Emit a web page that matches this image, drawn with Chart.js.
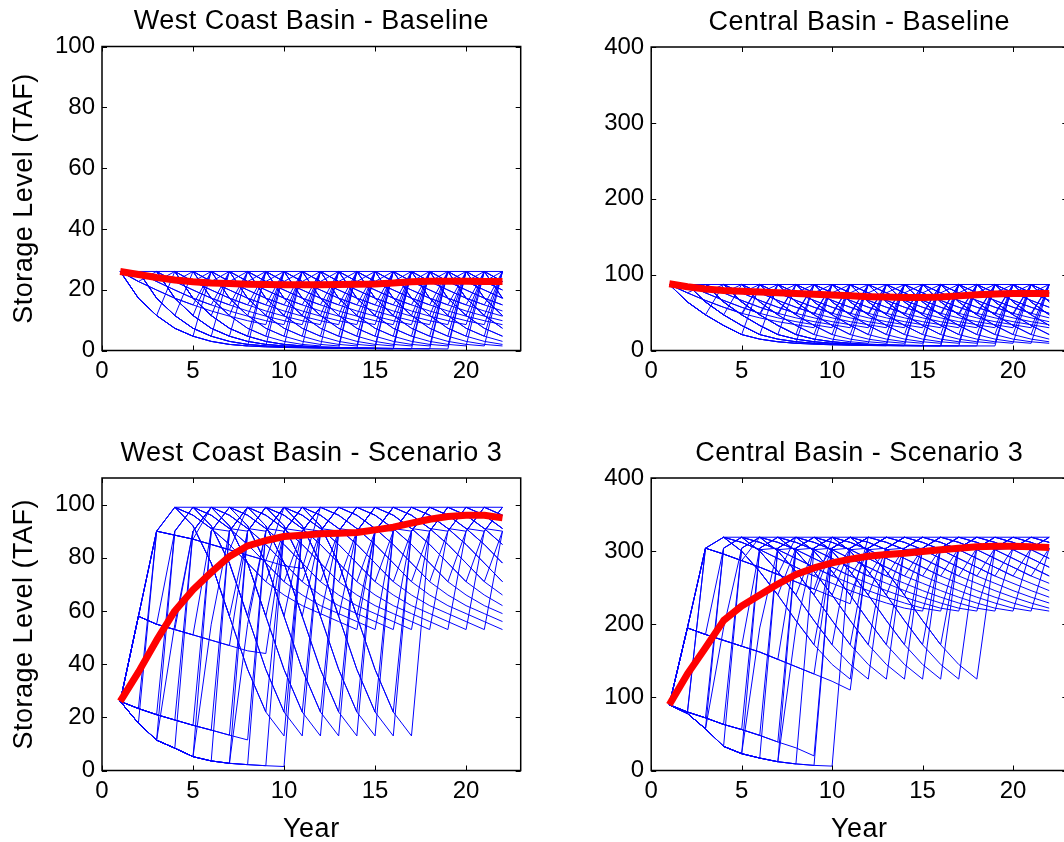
<!DOCTYPE html>
<html>
<head>
<meta charset="utf-8">
<title>Groundwater storage scenarios</title>
<script src="https://cdn.jsdelivr.net/npm/chart.js@4.4.1/dist/chart.umd.min.js"></script>
<style>
  html, body { margin: 0; padding: 0; background: #fff; }
  #fig { position: relative; width: 1064px; height: 842px; overflow: hidden; background: #fff; }
  #fig canvas { position: absolute; }
</style>
</head>
<body>
<div id="fig">
  <canvas id="wcBase" width="532" height="421" style="left:0;top:0"></canvas>
  <canvas id="cbBase" width="560" height="421" style="left:532px;top:0"></canvas>
  <canvas id="wcS3" width="532" height="421" style="left:0;top:421px"></canvas>
  <canvas id="cbS3" width="560" height="421" style="left:532px;top:421px"></canvas>
</div>
<script>
const LAST_YEAR = 22;
const years = [1, 2, 3, 4, 5, 6, 7, 8, 9, 10, 11, 12, 13, 14, 15, 16, 17, 18, 19, 20, 21, 22];
const dropYears = [1, 2, 3, 4, 5, 6, 7, 8, 9, 10, 11, 12, 13, 14, 15, 16, 17, 18, 19, 20, 21];
const longDropYears = [1, 2, 3, 4];

// West Coast Basin - Baseline (TAF)
const wcBaseFull = 26;
const wcBaseMean = [26, 25, 24, 23.2, 22.6, 22.2, 22.0, 21.8, 21.7, 21.6, 21.6, 21.6, 21.7, 21.8, 21.9, 22.2, 22.6, 22.8, 22.8, 22.8, 22.7, 22.7];
const wcBaseDeep = [26, 17.2, 11.5, 7.3, 4.7, 3.0, 2.0, 1.5, 1.2, 1.0, 0.9, 0.8, 0.7, 0.6, 0.6, 0.5, 0.5];
const wcBaseMild = [26, 22.7, 19.9, 17.2, 15.0, 13.0, 11.3, 9.8, 8.5];
const baseDeepSpans = [2, 4, 7];
const baseLongSpans = [12, 15];
const baseMildSpans = [1, 4, 8];

// Central Basin - Baseline (TAF)
const cbBaseFull = 87;
const cbBaseMean = [88, 84, 81, 79, 78, 77, 76, 75, 74, 73, 72, 71, 70.5, 70, 70, 70.5, 72, 73.5, 74.5, 75, 75, 75];
const cbBaseDeep = [87, 64, 47, 33, 21, 15, 11.5, 9.5, 8.3, 7.5, 7.0, 6.6, 6.3, 6.1, 6.0, 6.0, 6.0];
const cbBaseMild = [87, 76, 66, 57, 49, 43, 38, 34, 30];

// West Coast Basin - Scenario 3 (TAF)
const wcS3Full = 99;
const wcS3Mean = [26, 37, 49, 60, 68, 74.5, 80.5, 84.5, 86.5, 88, 88.5, 89, 89.2, 89.5, 90.5, 91.5, 93, 94.5, 95.5, 96, 96, 95];
const wcS3Rise = [26, 58, 90, 99];
const wcS3Refill = [90, 99];
const wcS3HalfRefill = [55, 90, 99];
const wcS3DryStart = [26, 17.8, 11.4, 8.4, 5.2, 3.6, 2.7, 2.2, 1.8, 1.5];
const wcS3SlowStart = [26, 23.3, 21.0, 19.0, 17.0, 15.2, 13.3, 11.5];
const wcS3After58 = [58, 55, 53, 51, 49, 47, 45, 44];
const wcS3After90 = [90, 88.5, 87, 85, 83, 81, 79, 77, 76];
const wcS3Drop = [99, 92, 78, 58, 38, 22, 13, 9];
const wcS3Sag = [99, 96, 91, 85, 78, 71, 66, 62, 59, 56, 53];

// Central Basin - Scenario 3 (TAF)
const cbS3Full = 319;
const cbS3Mean = [90, 132, 168, 205, 225, 240, 255, 268, 277, 284, 289, 293, 295.5, 297, 299.5, 302, 304, 306, 306.5, 306.5, 306, 305];
const cbS3Rise = [90, 195, 304, 319];
const cbS3Refill = [304, 319];
const cbS3HalfRefill = [195, 304, 319];
const cbS3DryStart = [90, 78, 57, 33, 23, 17, 12, 9, 7, 6];
const cbS3SlowStart = [90, 80, 72, 63, 56, 48, 39, 31, 20];
const cbS3After195 = [195, 186, 178, 170, 162, 152, 142, 132, 122, 110];
const cbS3After304 = [304, 296, 287, 278, 268, 258, 248, 238, 228];
const cbS3Drop = [319, 300, 272, 240, 205, 172, 145, 125];
const cbS3Sag = [319, 312, 302, 290, 278, 266, 256, 246, 237, 229, 222, 218];

const s3DropStarts = [4, 5, 6, 7, 8, 9, 10, 11];
const s3SagStarts = [4, 5, 6, 7, 8, 9, 10, 11, 12, 13, 14, 15, 16, 17, 18, 19, 20, 21];

// one trajectory: lead values, `span` dry years of the profile, then the refill years
function droughtRow(start, lead, profile, span, refill) {
  const vals = lead.concat(profile.slice(0, span + 1), refill);
  return vals.map((v, i) => ({ x: start + i, y: v })).filter(p => p.x <= LAST_YEAR);
}

function droughtRows(starts, lead, profile, spans, refill) {
  const rows = [];
  starts.forEach(s => spans.forEach(k => rows.push(droughtRow(s, lead, profile, k, refill))));
  return rows;
}

function series(vals, start) {
  return vals.map((v, i) => ({ x: start + i, y: v }));
}

function fullFrom(prefix, full) {
  return series(prefix.concat(years.slice(prefix.length).map(() => full)), 1);
}

const wcBaseRows = [fullFrom([], wcBaseFull)]
  .concat(droughtRows(dropYears, [], wcBaseDeep, baseDeepSpans, [wcBaseFull]))
  .concat(droughtRows(longDropYears, [], wcBaseDeep, baseLongSpans, [wcBaseFull]))
  .concat(droughtRows(dropYears, [], wcBaseMild, baseMildSpans, [wcBaseFull]));

const cbBaseRows = [fullFrom([], cbBaseFull)]
  .concat(droughtRows(dropYears, [], cbBaseDeep, baseDeepSpans, [cbBaseFull]))
  .concat(droughtRows(longDropYears, [], cbBaseDeep, baseLongSpans, [cbBaseFull]))
  .concat(droughtRows(dropYears, [], cbBaseMild, baseMildSpans, [cbBaseFull]));

const wcS3Rows = [fullFrom(wcS3Rise, wcS3Full)]
  .concat(droughtRows([1], [], wcS3DryStart, [1, 2, 3, 4, 5, 6, 7, 8, 9], wcS3Refill))
  .concat(droughtRows([1], [], wcS3DryStart, [2, 4, 6], wcS3HalfRefill))
  .concat(droughtRows([1], [], wcS3SlowStart, [1, 2, 3, 4, 5, 6, 7], wcS3Refill))
  .concat(droughtRows([1], [26], wcS3After58, [1, 2, 3, 5, 7], wcS3Refill))
  .concat(droughtRows([1], [26, 58], wcS3After90, [2, 4, 6, 8], [wcS3Full]))
  .concat(droughtRows(s3DropStarts, [], wcS3Drop, [3, 5, 6], wcS3Refill))
  .concat(droughtRows(s3SagStarts, [], wcS3Sag, [2, 5, 10], wcS3Refill));

const cbS3Rows = [fullFrom(cbS3Rise, cbS3Full)]
  .concat(droughtRows([1], [], cbS3DryStart, [1, 2, 3, 4, 5, 6, 7, 8, 9], cbS3Refill))
  .concat(droughtRows([1], [], cbS3DryStart, [2, 4, 6], cbS3HalfRefill))
  .concat(droughtRows([1], [], cbS3SlowStart, [1, 2, 3, 4, 5, 6, 8], cbS3Refill))
  .concat(droughtRows([1], [90], cbS3After195, [1, 3, 5, 7, 9], cbS3Refill))
  .concat(droughtRows([1], [90, 195], cbS3After304, [2, 4, 6, 8], [cbS3Full]))
  .concat(droughtRows(s3DropStarts, [], cbS3Drop, [3, 5, 7], cbS3Refill))
  .concat(droughtRows(s3SagStarts, [], cbS3Sag, [2, 5, 11], cbS3Refill));

const FONT = '"Liberation Sans", Arial, Helvetica, sans-serif';
const tickFont = { family: FONT, size: 24 };

// boxed axes with inward ticks, title and axis labels
const matlabAxes = {
  id: 'matlabAxes',
  afterDraw(chart, args, opts) {
    const { ctx, chartArea: a, scales } = chart;
    const len = 5;
    ctx.save();
    ctx.strokeStyle = '#000';
    ctx.lineWidth = 1.5;
    ctx.strokeRect(a.left, a.top, a.right - a.left, a.bottom - a.top);
    ctx.lineWidth = 1;
    ctx.beginPath();
    scales.x.ticks.forEach(t => {
      const px = Math.round(scales.x.getPixelForValue(t.value)) + 0.5;
      ctx.moveTo(px, a.bottom); ctx.lineTo(px, a.bottom - len);
      ctx.moveTo(px, a.top); ctx.lineTo(px, a.top + len);
    });
    scales.y.ticks.forEach(t => {
      const py = Math.round(scales.y.getPixelForValue(t.value)) + 0.5;
      ctx.moveTo(a.left, py); ctx.lineTo(a.left + len, py);
      ctx.moveTo(a.right, py); ctx.lineTo(a.right - len, py);
    });
    ctx.stroke();

    ctx.fillStyle = '#000';
    ctx.textAlign = 'center';
    ctx.font = '27px ' + FONT;
    ctx.letterSpacing = '0.5px';
    ctx.textBaseline = 'alphabetic';
    ctx.fillText(opts.title, (a.left + a.right) / 2, a.top - 17.5);
    if (opts.xLabel) {
      ctx.fillText(opts.xLabel, (a.left + a.right) / 2, a.bottom + 66);
    }
    if (opts.yLabel) {
      ctx.translate(25, (a.top + a.bottom) / 2);
      ctx.rotate(-Math.PI / 2);
      ctx.textBaseline = 'middle';
      ctx.fillText(opts.yLabel, 0, 0);
    }
    ctx.restore();
  }
};

function drawPanel(id, rows, mean, yMax, yStep, box, labels) {
  const datasets = [{
    data: series(mean, 1),
    borderColor: '#ff0000',
    borderWidth: 7,
    borderJoinStyle: 'round',
    pointRadius: 0
  }].concat(rows.map(r => ({
    data: r,
    borderColor: '#0000ff',
    borderWidth: 1,
    pointRadius: 0
  })));

  new Chart(document.getElementById(id), {
    type: 'line',
    data: { datasets },
    options: {
      responsive: false,
      animation: false,
      layout: { padding: { left: 0, top: box.top, right: box.right, bottom: 0 } },
      plugins: {
        legend: { display: false },
        tooltip: { enabled: false },
        matlabAxes: labels
      },
      scales: {
        x: {
          type: 'linear',
          min: 0,
          max: 23,
          afterFit: s => { s.height = box.xh; },
          grid: { display: false, drawTicks: false },
          border: { display: false },
          ticks: { stepSize: 5, includeBounds: false, padding: 6, color: '#000', font: tickFont, maxRotation: 0 }
        },
        y: {
          type: 'linear',
          min: 0,
          max: yMax,
          afterFit: s => { s.width = box.yw; },
          grid: { display: false, drawTicks: false },
          border: { display: false },
          ticks: { stepSize: yStep, includeBounds: false, padding: 7, color: '#000', font: tickFont }
        }
      }
    },
    plugins: [matlabAxes]
  });
}

const leftTop = { top: 46.5, right: 11.3, xh: 70.5, yw: 102 };
const rightTop = { top: 47, right: 24.7, xh: 70.5, yw: 119.2 };
const leftBottom = { top: 57, right: 11.3, xh: 71.5, yw: 102 };
const rightBottom = { top: 57, right: 24.7, xh: 71.5, yw: 119.2 };

drawPanel('wcBase', wcBaseRows, wcBaseMean, 100, 20, leftTop,
  { title: 'West Coast Basin - Baseline', yLabel: 'Storage Level (TAF)' });
drawPanel('cbBase', cbBaseRows, cbBaseMean, 400, 100, rightTop,
  { title: 'Central Basin - Baseline' });
drawPanel('wcS3', wcS3Rows, wcS3Mean, 110, 20, leftBottom,
  { title: 'West Coast Basin - Scenario 3', yLabel: 'Storage Level (TAF)', xLabel: 'Year' });
drawPanel('cbS3', cbS3Rows, cbS3Mean, 400, 100, rightBottom,
  { title: 'Central Basin - Scenario 3', xLabel: 'Year' });
</script>
</body>
</html>
